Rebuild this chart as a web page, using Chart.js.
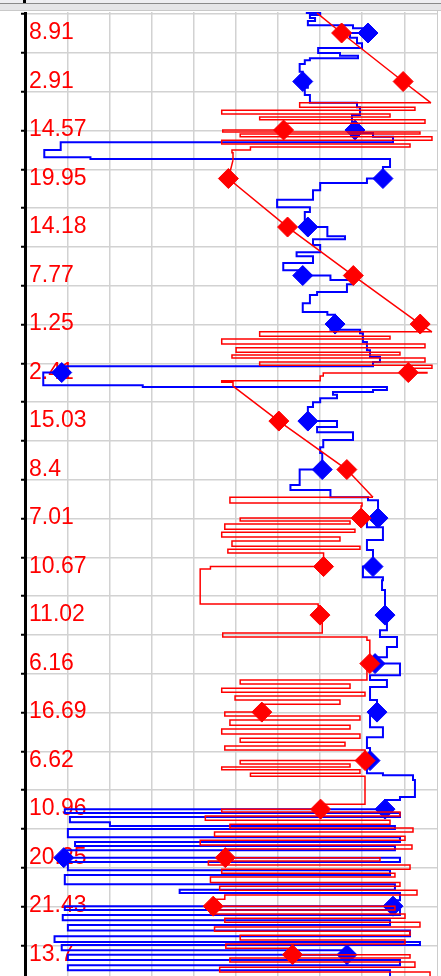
<!DOCTYPE html>
<html>
<head>
<meta charset="utf-8">
<script src="https://cdn.jsdelivr.net/npm/chart.js@4.4.0/dist/chart.umd.min.js"></script>
<style>
  html, body { margin: 0; padding: 0; background: #fff; overflow: hidden; }
  #wrap { position: relative; width: 441px; height: 976px; }
  #topBar {
    position: absolute; left: 0; top: 0; width: 441px; height: 12px; z-index: 2;
    background: linear-gradient(to bottom, #eeeef1 0px, #eeeef1 3px, #8a8a8a 3px, #8a8a8a 4px,
      #e5e5e7 4px, #e5e5e7 10px, #c9c9c9 10px, #c9c9c9 11px, #ffffff 11px);
  }
  #axisStub { position: absolute; left: 23px; top: 0; width: 3px; height: 3px; background: #000; z-index: 3; }
  #rightEdge { position: absolute; left: 437px; top: 11px; width: 1px; height: 965px; background: #cccccc; z-index: 2; }
</style>
</head>
<body>
<div id="wrap">
  <canvas id="logChart"></canvas>
  <div id="topBar"></div>
  <div id="axisStub"></div>
  <div id="rightEdge"></div>
</div>
<script>
// row labels printed inside the left axis
const rowLabels = ['8.91', '2.91', '14.57', '19.95', '14.18', '7.77', '1.25', '2.41', '15.03', '8.4',
  '7.01', '10.67', '11.02', '6.16', '16.69', '6.62', '10.96', '20.25', '21.43', '13.7'];

// diamond marker values, one per row
const redMarks = [8.91, 2.91, 14.57, 19.95, 14.18, 7.77, 1.25, 2.41, 15.03, 8.4,
  7.01, 10.67, 11.02, 6.16, 16.69, 6.62, 10.96, 20.25, 21.43, 13.7];
const blueMarks = [6.34, 12.7, 7.61, 4.88, 12.2, 12.7, 9.55, 36.2, 12.2, 10.8,
  5.36, 5.85, 4.68, 5.65, 5.46, 6.14, 4.68, 36.0, 3.9, 8.39];

// red trace: straight runs and stepped (zigzag) runs, [value, row position]
const redRamps = [
  [[11.3, -0.41], [8.91, 0], [2.91, 1], [0.2, 1.44]],
  [[19.5, 2.62], [19.95, 3], [14.18, 4], [7.77, 5], [1.25, 6], [0.1, 6.16]],
  [[19.5, 7.28], [15.03, 8], [8.4, 9], [5.85, 9.57]]
];
const redSteps = [
  [[0.2, 1.44], [13.0, 1.53], [1.76, 1.59], [20.6, 1.67], [4.19, 1.73], [16.9, 1.79], [0.78, 1.86], [14.57, 2],
   [20.5, 2.04], [1.27, 2.08], [18.8, 2.14], [0.1, 2.21], [20.6, 2.29], [2.24, 2.35], [17.8, 2.41], [19.6, 2.47], [19.5, 2.62]],
  [[0.1, 6.16], [16.9, 6.25], [4.19, 6.31], [20.6, 6.41], [0.78, 6.49], [19.2, 6.58], [3.22, 6.64], [19.6, 6.7],
   [0.78, 6.78], [16.9, 6.85], [0.1, 6.91], [2.41, 7], [0.59, 7.01], [10.7, 7.07], [11.0, 7.17], [20.6, 7.2], [19.5, 7.28]],
  [[5.85, 9.57], [19.8, 9.69], [6.92, 9.75], [7.01, 10],
   [18.8, 10.06], [8.09, 10.12], [20.3, 10.23], [7.61, 10.29], [20.6, 10.39], [9.07, 10.47], [19.6, 10.58], [7.12, 10.64], [20.0, 10.72],
   [10.67, 11], [21.7, 11.05], [22.7, 11.11], [22.7, 11.77], [11.2, 11.81], [11.02, 12],
   [10.8, 12.37], [20.5, 12.45], [6.44, 12.52], [6.16, 13],
   [6.44, 13.34], [18.8, 13.42], [8.09, 13.51], [20.6, 13.59], [6.63, 13.67], [19.3, 13.75], [9.07, 13.84], [16.69, 14],
   [20.3, 14.08], [7.12, 14.16], [19.8, 14.27], [8.09, 14.35], [20.6, 14.45], [7.12, 14.54], [18.8, 14.62], [8.58, 14.7], [20.3, 14.78], [6.62, 15],
   [18.8, 15.07], [8.09, 15.13], [20.6, 15.19], [7.12, 15.26], [17.8, 15.32], [6.63, 15.36], [6.63, 15.9], [10.96, 16],
   [20.6, 16.06], [3.22, 16.14], [22.2, 16.23], [4.19, 16.31], [19.8, 16.39], [1.95, 16.47], [21.3, 16.56], [2.73, 16.64], [22.7, 16.74], [2.05, 16.82], [20.25, 17],
   [5.17, 17.07], [21.9, 17.15], [2.24, 17.24], [20.6, 17.32], [3.71, 17.4], [21.7, 17.51], [3.22, 17.59], [20.8, 17.67], [1.56, 17.77], [20.3, 17.86], [21.43, 18],
   [3.71, 18.08], [21.7, 18.16], [2.73, 18.25], [20.3, 18.33], [1.27, 18.43], [21.3, 18.52], [2.24, 18.6], [18.8, 18.7], [2.73, 18.78], [20.2, 18.87], [13.7, 19],
   [2.24, 19.07], [19.8, 19.15], [1.76, 19.26], [20.8, 19.36], [0.29, 19.44]]
];

// blue trace (stepped), [value, row position]
const blueTrace = [
  [12.4, -0.41], [11.0, -0.37], [12.0, -0.31], [11.5, -0.25], [12.2, -0.16], [7.8, -0.1], [6.34, 0],
  [8.09, 0.1], [7.41, 0.21], [6.92, 0.31], [11.2, 0.41], [9.07, 0.47], [7.31, 0.52], [12.0, 0.56], [12.5, 0.64], [13.0, 0.8], [12.7, 1],
  [12.2, 1.13], [12.5, 1.28], [12.0, 1.44], [7.41, 1.53], [7.12, 1.69], [7.9, 1.84], [7.61, 2],
  [6.83, 2.06], [5.85, 2.14], [3.9, 2.25], [36.3, 2.41], [37.9, 2.56], [33.4, 2.6], [4.19, 2.76], [4.88, 3],
  [6.44, 3.09], [11.0, 3.24], [11.7, 3.44], [15.2, 3.59], [12.0, 3.69], [12.5, 3.86], [12.2, 4],
  [10.3, 4.19], [8.58, 4.25], [11.7, 4.37], [11.0, 4.52], [13.3, 4.6], [11.7, 4.74], [14.6, 4.89], [12.7, 5],
  [10.0, 5.09], [7.8, 5.18], [8.39, 5.34], [11.3, 5.4], [12.0, 5.57], [12.7, 5.75], [10.3, 5.81], [9.55, 6],
  [10.0, 6.12], [7.12, 6.19], [6.83, 6.37], [6.44, 6.54], [6.14, 6.68], [5.17, 6.78], [5.85, 6.87], [36.2, 7],
  [38.0, 7.26], [28.3, 7.3], [4.49, 7.36], [5.85, 7.4], [9.75, 7.46], [9.36, 7.53], [11.0, 7.61], [11.7, 7.71], [12.2, 8],
  [9.36, 8.12], [11.3, 8.23], [7.8, 8.39], [10.7, 8.54], [11.0, 8.66], [10.8, 9],
  [13.0, 9.32], [13.9, 9.42], [10.0, 9.57], [6.34, 9.63], [5.36, 10],
  [6.44, 10.19], [4.88, 10.45], [6.44, 10.66], [5.85, 11],
  [6.83, 11.22], [4.88, 11.28], [4.97, 11.48], [4.68, 11.84], [4.68, 12],
  [4.49, 12.31], [5.17, 12.45], [3.51, 12.66], [4.49, 12.87], [5.65, 13],
  [3.22, 13.07], [3.22, 13.24], [6.14, 13.34], [4.49, 13.48], [6.14, 13.75], [5.46, 14],
  [6.14, 14.31], [4.88, 14.52], [6.44, 14.74], [6.14, 15],
  [6.44, 15.26], [4.88, 15.3], [1.95, 15.4], [1.76, 15.75], [3.22, 15.81], [4.68, 16],
  [35.9, 16.08], [3.22, 16.16], [35.4, 16.27], [31.5, 16.35], [3.71, 16.41], [35.6, 16.58], [3.22, 16.68], [34.9, 16.76], [3.71, 16.85], [36.0, 17],
  [3.22, 17.09], [35.6, 17.26], [4.19, 17.36], [35.9, 17.55], [3.71, 17.66], [24.7, 17.73], [3.22, 17.88], [3.9, 18],
  [35.9, 18.08], [3.22, 18.18], [36.1, 18.29], [4.19, 18.39], [35.6, 18.5], [2.24, 18.62], [36.9, 18.74], [1.27, 18.8], [36.2, 18.91], [8.39, 19],
  [35.6, 19.11], [3.22, 19.22], [35.6, 19.32], [4.19, 19.44]
];

// grid positions (no tick labels on these)
const xGridTicks = [2.8, 6.9, 11.0, 15.1, 19.2, 23.3, 27.4, 31.5, 35.6];
const yGridStart = -0.39, yGridStep = 0.8, yGridCount = 25;

const X_MIN = -0.39, X_MAX = 39.78;
const Y_MIN = -0.433, Y_MAX = 19.44;

const yGridTicks = [];
for (let k = 0; k < yGridCount; k++) yGridTicks.push(yGridStart + k * yGridStep);

// join runs into one dataset, with a gap between runs
function joinRuns(runs) {
    const out = [];
    runs.forEach((run, i) => {
        if (i > 0) out.push({ x: null, y: null });
        run.forEach(p => out.push({ x: p[0], y: p[1] }));
    });
    return out;
}
const noPad = s => { s.paddingTop = 0; s.paddingBottom = 0; s.paddingLeft = 0; s.paddingRight = 0; };
const gridColor = '#d2d2d2';

const ctx = document.getElementById('logChart');
const logChart = new Chart(ctx, {
    type: 'scatter',
    data: {
        datasets: [{
            label: 'red marks',
            data: redMarks.map((v, i) => ({ x: v, y: i })),
            pointStyle: 'rectRot',
            pointRadius: 10,
            backgroundColor: '#ff0000',
            borderColor: '#ff0000',
            borderWidth: 1,
            order: 0
        }, {
            label: 'red ramps',
            data: joinRuns(redRamps),
            showLine: true,
            spanGaps: false,
            pointRadius: 0,
            borderColor: '#ff0000',
            borderWidth: 1.5,
            order: 1
        }, {
            label: 'red steps',
            data: joinRuns(redSteps),
            showLine: true,
            spanGaps: false,
            stepped: true,
            pointRadius: 0,
            borderColor: '#ff0000',
            borderWidth: 1.5,
            order: 1
        }, {
            label: 'blue marks',
            data: blueMarks.map((v, i) => ({ x: v, y: i })),
            pointStyle: 'rectRot',
            pointRadius: 10,
            backgroundColor: '#0000ff',
            borderColor: '#0000ff',
            borderWidth: 1,
            order: 2
        }, {
            label: 'blue trace',
            data: blueTrace.map(p => ({ x: p[0], y: p[1] })),
            showLine: true,
            stepped: true,
            pointRadius: 0,
            borderColor: '#0000ff',
            borderWidth: 2,
            order: 3
        }]
    },
    options: {
        responsive: true,
        maintainAspectRatio: false,
        animation: false,
        events: [],
        layout: { autoPadding: false, padding: { top: 12, right: 4, left: 0, bottom: 0 } },
        plugins: { legend: { display: false }, tooltip: { enabled: false } },
        scales: {
            x: {
                type: 'linear',
                reverse: true,
                min: X_MIN,
                max: X_MAX,
                afterBuildTicks: s => { s.ticks = xGridTicks.map(v => ({ value: v })); },
                afterFit: s => { s.height = 0; noPad(s); },
                ticks: { display: false },
                grid: { color: gridColor, lineWidth: 1.5, drawTicks: false },
                border: { display: false }
            },
            y: {
                type: 'linear',
                position: 'left',
                reverse: true,
                weight: 1,
                min: Y_MIN,
                max: Y_MAX,
                afterBuildTicks: s => { s.ticks = yGridTicks.map(v => ({ value: v })); },
                afterFit: s => { s.width = 25; noPad(s); },
                ticks: { display: false },
                grid: { color: gridColor, lineWidth: 1.5, tickColor: '#000000', tickLength: 4, tickWidth: 2 },
                border: { color: '#000000', width: 3 }
            },
            rows: {
                type: 'linear',
                position: 'left',
                reverse: true,
                weight: 0,
                min: Y_MIN,
                max: Y_MAX,
                afterBuildTicks: s => { s.ticks = rowLabels.map((_, i) => ({ value: i })); },
                afterFit: s => { s.width = 0; noPad(s); },
                ticks: {
                    mirror: true,
                    padding: 4,
                    autoSkip: false,
                    color: '#ff0000',
                    font: { family: '"Liberation Sans", Arial, sans-serif', size: 23 },
                    callback: (v, i) => rowLabels[i]
                },
                grid: { display: false },
                border: { display: false }
            }
        }
    }
});
</script>
</body>
</html>
